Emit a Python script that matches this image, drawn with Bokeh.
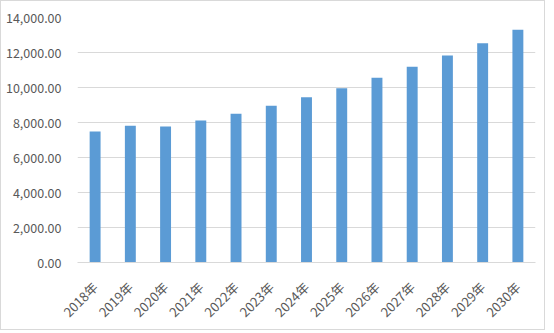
import math
from bokeh.plotting import figure
from bokeh.models import NumeralTickFormatter, FixedTicker, ColumnDataSource
from bokeh.embed import file_html
from bokeh.resources import INLINE

years = ["2018年", "2019年", "2020年", "2021年", "2022年", "2023年", "2024年",
         "2025年", "2026年", "2027年", "2028年", "2029年", "2030年"]
values = [7486, 7810, 7771, 8114, 8495, 8952, 9447, 9962, 10552, 11181, 11829, 12533, 13295]
y_ticks = [0, 2000, 4000, 6000, 8000, 10000, 12000, 14000]

src = ColumnDataSource(data=dict(x=years, top=values))

p = figure(x_range=years, y_range=(0, 14000), width=545, height=330,
           output_backend="svg", toolbar_location=None,
           min_border_left=76, min_border_right=11, min_border_top=16, min_border_bottom=69,
           styles={"border": "1px solid #d9d9d9"})
p.vbar(x="x", top="top", width=0.31, source=src, color="#5b9bd5", line_color=None)

p.outline_line_color = None
p.background_fill_color = "white"
p.border_fill_color = "white"

p.xgrid.grid_line_color = None
p.ygrid.grid_line_color = "#d9d9d9"
p.ygrid.grid_line_width = 1

p.yaxis.ticker = FixedTicker(ticks=y_ticks)
p.yaxis.formatter = NumeralTickFormatter(format="0,0.00")
p.yaxis.axis_line_color = None
p.yaxis.major_tick_line_color = None
p.yaxis.minor_tick_line_color = None
p.yaxis.major_label_standoff = 10

p.xaxis.axis_line_color = "#d9d9d9"
p.xaxis.major_tick_line_color = None
p.xaxis.minor_tick_line_color = None
p.xaxis.major_label_orientation = math.pi / 4
p.xaxis.major_label_standoff = 16

for ax in (p.xaxis[0], p.yaxis[0]):
    ax.major_label_text_font = "Noto Sans CJK SC"
    ax.major_label_text_color = "#595959"
p.yaxis.major_label_text_font_size = "12.5px"
p.xaxis.major_label_text_font_size = "13px"

open("out.html", "w").write(file_html(p, INLINE))
